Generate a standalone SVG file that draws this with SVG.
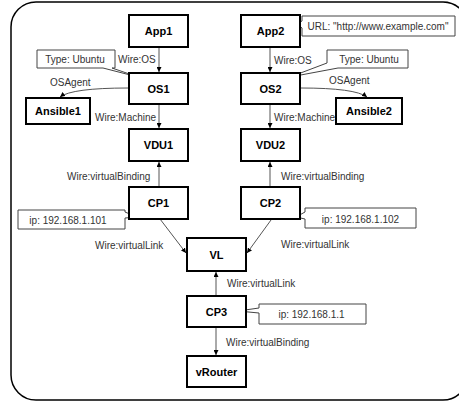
<svg xmlns="http://www.w3.org/2000/svg" width="459" height="405" viewBox="0 0 459 405">
<defs>
<style>
.node rect{fill:#fff;stroke:#000;stroke-width:2}
.node text{font-family:"Liberation Sans",Arial,sans-serif;font-size:11px;font-weight:bold;fill:#000;text-anchor:middle}
.conn{fill:none;stroke:#555;stroke-width:1;marker-end:url(#ah)}
.lbl{font-family:"Liberation Sans",Arial,sans-serif;font-size:10px;fill:#333}
.call path{fill:#fff;stroke:#444;stroke-width:1}
.call text{font-family:"Liberation Sans",Arial,sans-serif;font-size:10px;fill:#333;text-anchor:middle}
</style>
<marker id="ah" viewBox="0 0 10 10" refX="10" refY="5" markerWidth="5" markerHeight="5" orient="auto" markerUnits="userSpaceOnUse">
<path d="M0,0 L10,5 L0,10 Z" fill="#000"/>
</marker>
</defs>
<rect x="11" y="2" width="457" height="398" rx="25" fill="#fff" stroke="#000" stroke-width="1.5"/>

<g id="connectors">
<line class="conn" x1="159" y1="47" x2="159" y2="72"/>
<line class="conn" x1="159" y1="104" x2="159" y2="128"/>
<line class="conn" x1="159" y1="187" x2="159" y2="162"/>
<line class="conn" x1="160" y1="219" x2="186" y2="253"/>
<path class="conn" d="M128,88 Q72,88 60,97"/>
<line class="conn" x1="270" y1="47" x2="270" y2="72"/>
<line class="conn" x1="270" y1="104" x2="270" y2="128"/>
<line class="conn" x1="270" y1="187" x2="270" y2="162"/>
<line class="conn" x1="271" y1="220" x2="247" y2="253"/>
<path class="conn" d="M301,88 Q355,88 367,97"/>
<line class="conn" x1="216" y1="296" x2="216" y2="272"/>
<line class="conn" x1="216" y1="327" x2="216" y2="355"/>
<text class="lbl" x="118" y="63">Wire:OS</text>
<text class="lbl" x="50" y="85.5">OSAgent</text>
<text class="lbl" x="95" y="120.5">Wire:Machine</text>
<text class="lbl" x="274" y="63.5">Wire:OS</text>
<text class="lbl" x="329" y="83.5">OSAgent</text>
<text class="lbl" x="274" y="120.5">Wire:Machine</text>
<text class="lbl" x="67" y="179.5">Wire:virtualBinding</text>
<text class="lbl" x="281" y="179.5">Wire:virtualBinding</text>
<text class="lbl" x="95" y="248.5">Wire:virtualLink</text>
<text class="lbl" x="281" y="247.5">Wire:virtualLink</text>
<text class="lbl" x="227" y="286.5">Wire:virtualLink</text>
<text class="lbl" x="226" y="345.5">Wire:virtualBinding</text>
</g>

<g id="callout-type1" class="call"><path d="M37,50 H115 V68 H112 L138,77 L103,68 H37 Z"/><text x="75" y="62.5">Type: Ubuntu</text></g>
<g id="callout-type2" class="call"><path d="M327,50 H408 V68 H338 L290,77 L327,63 Z"/><text x="369" y="62.5">Type: Ubuntu</text></g>
<g id="callout-url" class="call"><path d="M302,16 H455 V36 H302 V28 L297,24 L302,21 Z"/><text x="378" y="29.5">URL: "http://www.example.com"</text></g>
<g id="callout-ip1" class="call"><path d="M18,210 H125 V212 L137,217 L125,218 V229 H18 Z"/><text x="68" y="223.5">ip: 192.168.1.101</text></g>
<g id="callout-ip2" class="call"><path d="M305,208 H416 V228 H305 V219 L296,217 L305,212 Z"/><text x="360.5" y="222.5">ip: 192.168.1.102</text></g>
<g id="callout-ip3" class="call"><path d="M259,304 H366 V324 H259 V313 L238,311 L259,308 Z"/><text x="311.5" y="317.5">ip: 192.168.1.1</text></g>

<g id="App1" class="node"><rect x="129" y="15" width="59" height="32"/><text x="158.5" y="35">App1</text></g>
<g id="OS1" class="node"><rect x="129" y="73" width="59" height="31"/><text x="158.5" y="92.5">OS1</text></g>
<g id="Ansible1" class="node"><rect x="26" y="98" width="64" height="26"/><text x="58" y="115">Ansible1</text></g>
<g id="VDU1" class="node"><rect x="129" y="129" width="59" height="32"/><text x="158.5" y="149">VDU1</text></g>
<g id="CP1" class="node"><rect x="129" y="187" width="59" height="32"/><text x="158.5" y="207">CP1</text></g>
<g id="App2" class="node"><rect x="241" y="15" width="59" height="32"/><text x="270.5" y="35">App2</text></g>
<g id="OS2" class="node"><rect x="241" y="73" width="59" height="31"/><text x="270.5" y="92.5">OS2</text></g>
<g id="Ansible2" class="node"><rect x="336" y="98" width="66" height="26"/><text x="369" y="115">Ansible2</text></g>
<g id="VDU2" class="node"><rect x="241" y="129" width="59" height="32"/><text x="270.5" y="149">VDU2</text></g>
<g id="CP2" class="node"><rect x="241" y="187" width="59" height="32"/><text x="270.5" y="207">CP2</text></g>
<g id="VL" class="node"><rect x="187" y="238" width="59" height="33"/><text x="216.5" y="258.5">VL</text></g>
<g id="CP3" class="node"><rect x="187" y="296" width="59" height="31"/><text x="216.5" y="315.5">CP3</text></g>
<g id="vRouter" class="node"><rect x="187" y="356" width="59" height="31"/><text x="216.5" y="375.5">vRouter</text></g>
</svg>
